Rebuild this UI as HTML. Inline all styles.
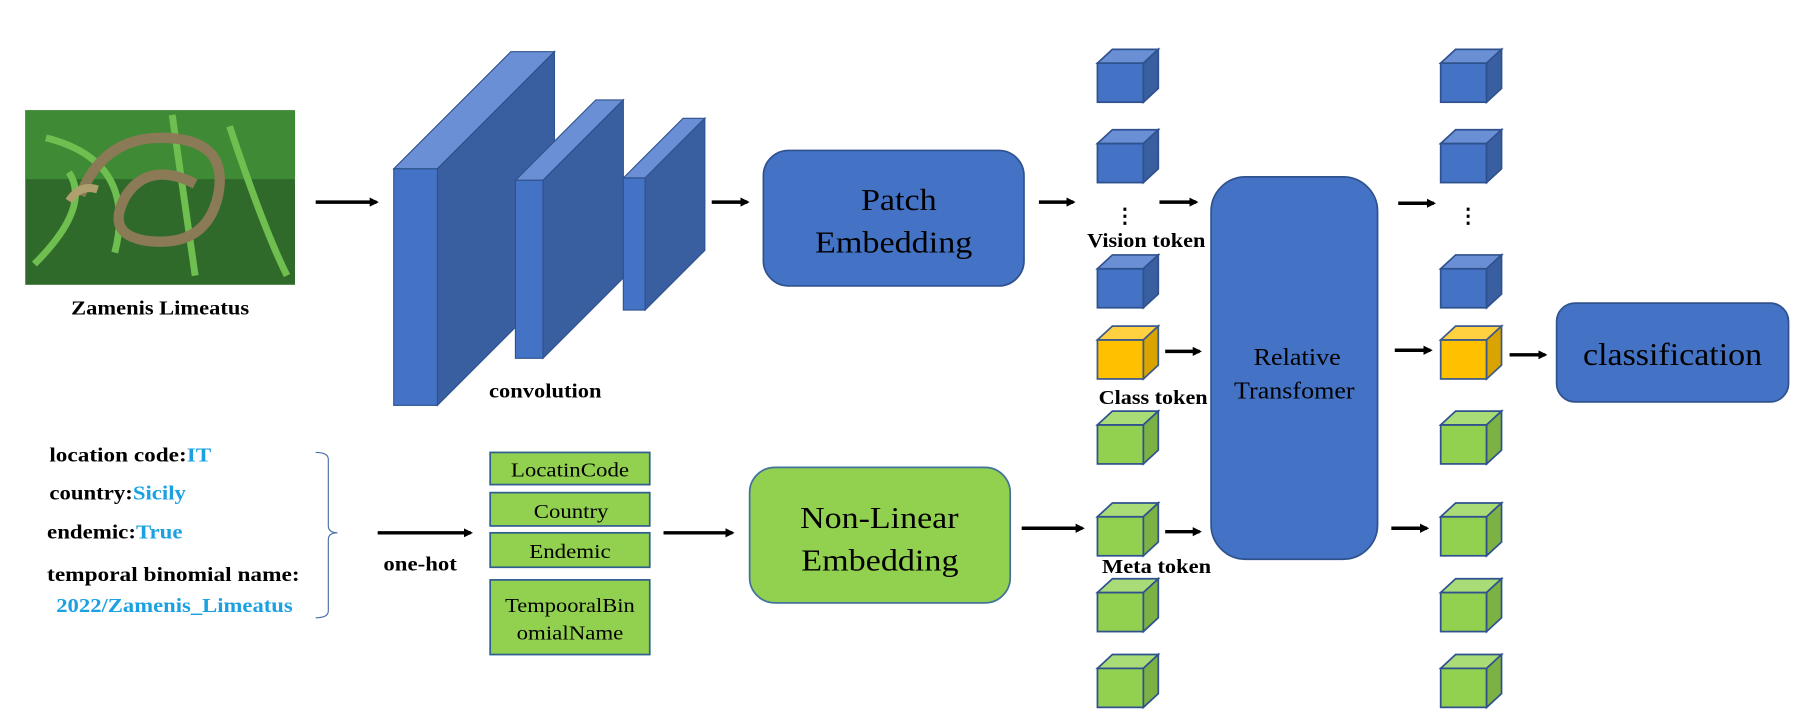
<!DOCTYPE html>
<html><head><meta charset="utf-8"><style>
html,body{margin:0;padding:0;background:#fff;width:1800px;height:720px;overflow:hidden}
svg{display:block}
text{font-family:"Liberation Serif",serif}
</style></head><body>
<svg width="1800" height="720" viewBox="0 0 1568 627" preserveAspectRatio="none" xmlns="http://www.w3.org/2000/svg">
<defs>
<marker id="ah" markerWidth="8" markerHeight="8" refX="6" refY="4" orient="auto" markerUnits="userSpaceOnUse"><path d="M0,0 L8,4 L0,8 z" fill="#000"/></marker>
<g id="cb"><rect x="0" y="0" width="40" height="34" fill="#4472c4" stroke="#2f528f" stroke-width="1.5"/><polygon points="0,0 13,-12 53,-12 40,0" fill="#6a8fd4" stroke="#2f528f" stroke-width="1.5"/><polygon points="40,0 53,-12 53,22 40,34" fill="#3a5fa0" stroke="#2f528f" stroke-width="1.5"/></g>
<g id="cy"><rect x="0" y="0" width="40" height="34" fill="#ffc000" stroke="#3c5a8a" stroke-width="1.5"/><polygon points="0,0 13,-12 53,-12 40,0" fill="#ffd040" stroke="#3c5a8a" stroke-width="1.5"/><polygon points="40,0 53,-12 53,22 40,34" fill="#d9a300" stroke="#3c5a8a" stroke-width="1.5"/></g>
<g id="cg"><rect x="0" y="0" width="40" height="34" fill="#92d050" stroke="#2f528f" stroke-width="1.5"/><polygon points="0,0 13,-12 53,-12 40,0" fill="#a9dc76" stroke="#2f528f" stroke-width="1.5"/><polygon points="40,0 53,-12 53,22 40,34" fill="#7cb144" stroke="#2f528f" stroke-width="1.5"/></g>
</defs>
<!-- photo -->
<rect x="22" y="96" width="235" height="152" fill="#2f6a2a"/>
<rect x="22" y="96" width="235" height="60" fill="#3f8a35"/>
<path d="M30 230 Q80 180 60 150 M40 120 Q120 140 100 220 M150 100 L170 240 M200 110 Q230 200 250 240" stroke="#6fbf50" stroke-width="6" fill="none"/>
<path d="M70 170 Q90 120 140 120 Q200 120 190 170 Q180 215 130 210 Q90 205 110 170 Q130 140 170 160" stroke="#8a7a55" stroke-width="9" fill="none"/>
<path d="M60 175 Q70 160 85 165" stroke="#b0a070" stroke-width="7" fill="none"/>
<text x="62" y="274" font-size="17" font-weight="bold" textLength="155" lengthAdjust="spacingAndGlyphs">Zamenis Limeatus</text>
<line x1="275" y1="176" x2="328" y2="176" stroke="#000" stroke-width="3" marker-end="url(#ah)"/>
<!-- conv slabs -->
<polygon points="343,147 445,45 483,45 381,147" fill="#6a8fd4" stroke="#2f528f"/>
<polygon points="381,147 483,45 483,251 381,353" fill="#3a5fa0" stroke="#2f528f"/>
<rect x="343" y="147" width="38" height="206" fill="#4472c4" stroke="#2f528f"/>
<polygon points="449,157 519,87 543,87 473,157" fill="#6a8fd4" stroke="#2f528f"/>
<polygon points="473,157 543,87 543,242 473,312" fill="#3a5fa0" stroke="#2f528f"/>
<rect x="449" y="157" width="24" height="155" fill="#4472c4" stroke="#2f528f"/>
<polygon points="543,155 595,103 614,103 562,155" fill="#6a8fd4" stroke="#2f528f"/>
<polygon points="562,155 614,103 614,218 562,270" fill="#3a5fa0" stroke="#2f528f"/>
<rect x="543" y="155" width="19" height="115" fill="#4472c4" stroke="#2f528f"/>
<text x="426" y="346" font-size="17" font-weight="bold" textLength="98" lengthAdjust="spacingAndGlyphs">convolution</text>
<line x1="620" y1="176" x2="651" y2="176" stroke="#000" stroke-width="3" marker-end="url(#ah)"/>
<rect x="665" y="131" width="227" height="118" rx="22" fill="#4472c4" stroke="#2f528f" stroke-width="1.5"/>
<text x="750" y="183" font-size="27" textLength="66" lengthAdjust="spacingAndGlyphs">Patch</text>
<text x="710" y="220" font-size="27" textLength="137" lengthAdjust="spacingAndGlyphs">Embedding</text>
<line x1="905" y1="176" x2="935" y2="176" stroke="#000" stroke-width="3" marker-end="url(#ah)"/>
<!-- cubes col1 -->
<use href="#cb" x="956" y="55"/><use href="#cb" x="956" y="125"/><use href="#cb" x="956" y="234"/>
<use href="#cy" x="956" y="296"/>
<use href="#cg" x="956" y="370"/><use href="#cg" x="956" y="450"/><use href="#cg" x="956" y="516"/><use href="#cg" x="956" y="582"/>
<text x="980" y="194" font-size="18" font-weight="bold" text-anchor="middle">⋮</text>
<text x="947" y="215" font-size="17" font-weight="bold" textLength="103" lengthAdjust="spacingAndGlyphs">Vision token</text>
<text x="957" y="352" font-size="17" font-weight="bold" textLength="95" lengthAdjust="spacingAndGlyphs">Class token</text>
<text x="960" y="499" font-size="17" font-weight="bold" textLength="95" lengthAdjust="spacingAndGlyphs">Meta token</text>
<line x1="1010" y1="176" x2="1042" y2="176" stroke="#000" stroke-width="3" marker-end="url(#ah)"/>
<line x1="1015" y1="306" x2="1045" y2="306" stroke="#000" stroke-width="3" marker-end="url(#ah)"/>
<line x1="1015" y1="463" x2="1045" y2="463" stroke="#000" stroke-width="3" marker-end="url(#ah)"/>
<line x1="890" y1="460" x2="943" y2="460" stroke="#000" stroke-width="3" marker-end="url(#ah)"/>
<rect x="1055" y="154" width="145" height="333" rx="30" fill="#4472c4" stroke="#2f528f" stroke-width="1.5"/>
<text x="1092" y="318" font-size="21" textLength="76" lengthAdjust="spacingAndGlyphs">Relative</text>
<text x="1075" y="347" font-size="21" textLength="105" lengthAdjust="spacingAndGlyphs">Transfomer</text>
<line x1="1218" y1="177" x2="1249" y2="177" stroke="#000" stroke-width="3" marker-end="url(#ah)"/>
<line x1="1215" y1="305" x2="1246" y2="305" stroke="#000" stroke-width="3" marker-end="url(#ah)"/>
<line x1="1212" y1="460" x2="1243" y2="460" stroke="#000" stroke-width="3" marker-end="url(#ah)"/>
<!-- cubes col2 -->
<use href="#cb" x="1255" y="55"/><use href="#cb" x="1255" y="125"/><use href="#cb" x="1255" y="234"/>
<use href="#cy" x="1255" y="296"/>
<use href="#cg" x="1255" y="370"/><use href="#cg" x="1255" y="450"/><use href="#cg" x="1255" y="516"/><use href="#cg" x="1255" y="582"/>
<text x="1279" y="194" font-size="18" font-weight="bold" text-anchor="middle">⋮</text>
<line x1="1315" y1="309" x2="1346" y2="309" stroke="#000" stroke-width="3" marker-end="url(#ah)"/>
<rect x="1356" y="264" width="202" height="86" rx="16" fill="#4472c4" stroke="#2f528f" stroke-width="1.5"/>
<text x="1379" y="318" font-size="28" textLength="156" lengthAdjust="spacingAndGlyphs">classification</text>
<!-- metadata -->
<g font-size="17" font-weight="bold">
<text x="43" y="402" textLength="141" lengthAdjust="spacingAndGlyphs">location  code:<tspan fill="#1ba1e2">IT</tspan></text>
<text x="43" y="435" textLength="119" lengthAdjust="spacingAndGlyphs">country:<tspan fill="#1ba1e2">Sicily</tspan></text>
<text x="41" y="469" textLength="118" lengthAdjust="spacingAndGlyphs">endemic:<tspan fill="#1ba1e2">True</tspan></text>
<text x="41" y="506" textLength="220" lengthAdjust="spacingAndGlyphs">temporal  binomial  name:</text>
<text x="49" y="533" fill="#1ba1e2" textLength="206" lengthAdjust="spacingAndGlyphs">2022/Zamenis_Limeatus</text>
<text x="334" y="497" textLength="64" lengthAdjust="spacingAndGlyphs">one-hot</text>
</g>
<path d="M275 394 Q286 394 286 400 L286 458 Q286 464 294 464 Q286 464 286 470 L286 532 Q286 538 275 538" stroke="#4a6fa8" fill="none" stroke-width="1"/>
<line x1="329" y1="464" x2="410" y2="464" stroke="#000" stroke-width="3" marker-end="url(#ah)"/>
<g fill="#92d050" stroke="#2f5f8f" stroke-width="1.5">
<rect x="427" y="394" width="139" height="28"/>
<rect x="427" y="429" width="139" height="29"/>
<rect x="427" y="464" width="139" height="30"/>
<rect x="427" y="505" width="139" height="65"/>
</g>
<g font-size="17">
<text x="445" y="415" textLength="103" lengthAdjust="spacingAndGlyphs">LocatinCode</text>
<text x="465" y="451" textLength="65" lengthAdjust="spacingAndGlyphs">Country</text>
<text x="461" y="486" textLength="71" lengthAdjust="spacingAndGlyphs">Endemic</text>
<text x="440" y="533" textLength="113" lengthAdjust="spacingAndGlyphs">TempooralBin</text>
<text x="450" y="557" textLength="93" lengthAdjust="spacingAndGlyphs">omialName</text>
</g>
<line x1="578" y1="464" x2="638" y2="464" stroke="#000" stroke-width="3" marker-end="url(#ah)"/>
<rect x="653" y="407" width="227" height="118" rx="22" fill="#92d050" stroke="#41719c" stroke-width="1.5"/>
<text x="697" y="460" font-size="27" textLength="138" lengthAdjust="spacingAndGlyphs">Non-Linear</text>
<text x="698" y="497" font-size="27" textLength="137" lengthAdjust="spacingAndGlyphs">Embedding</text>
</svg>
</body></html>
